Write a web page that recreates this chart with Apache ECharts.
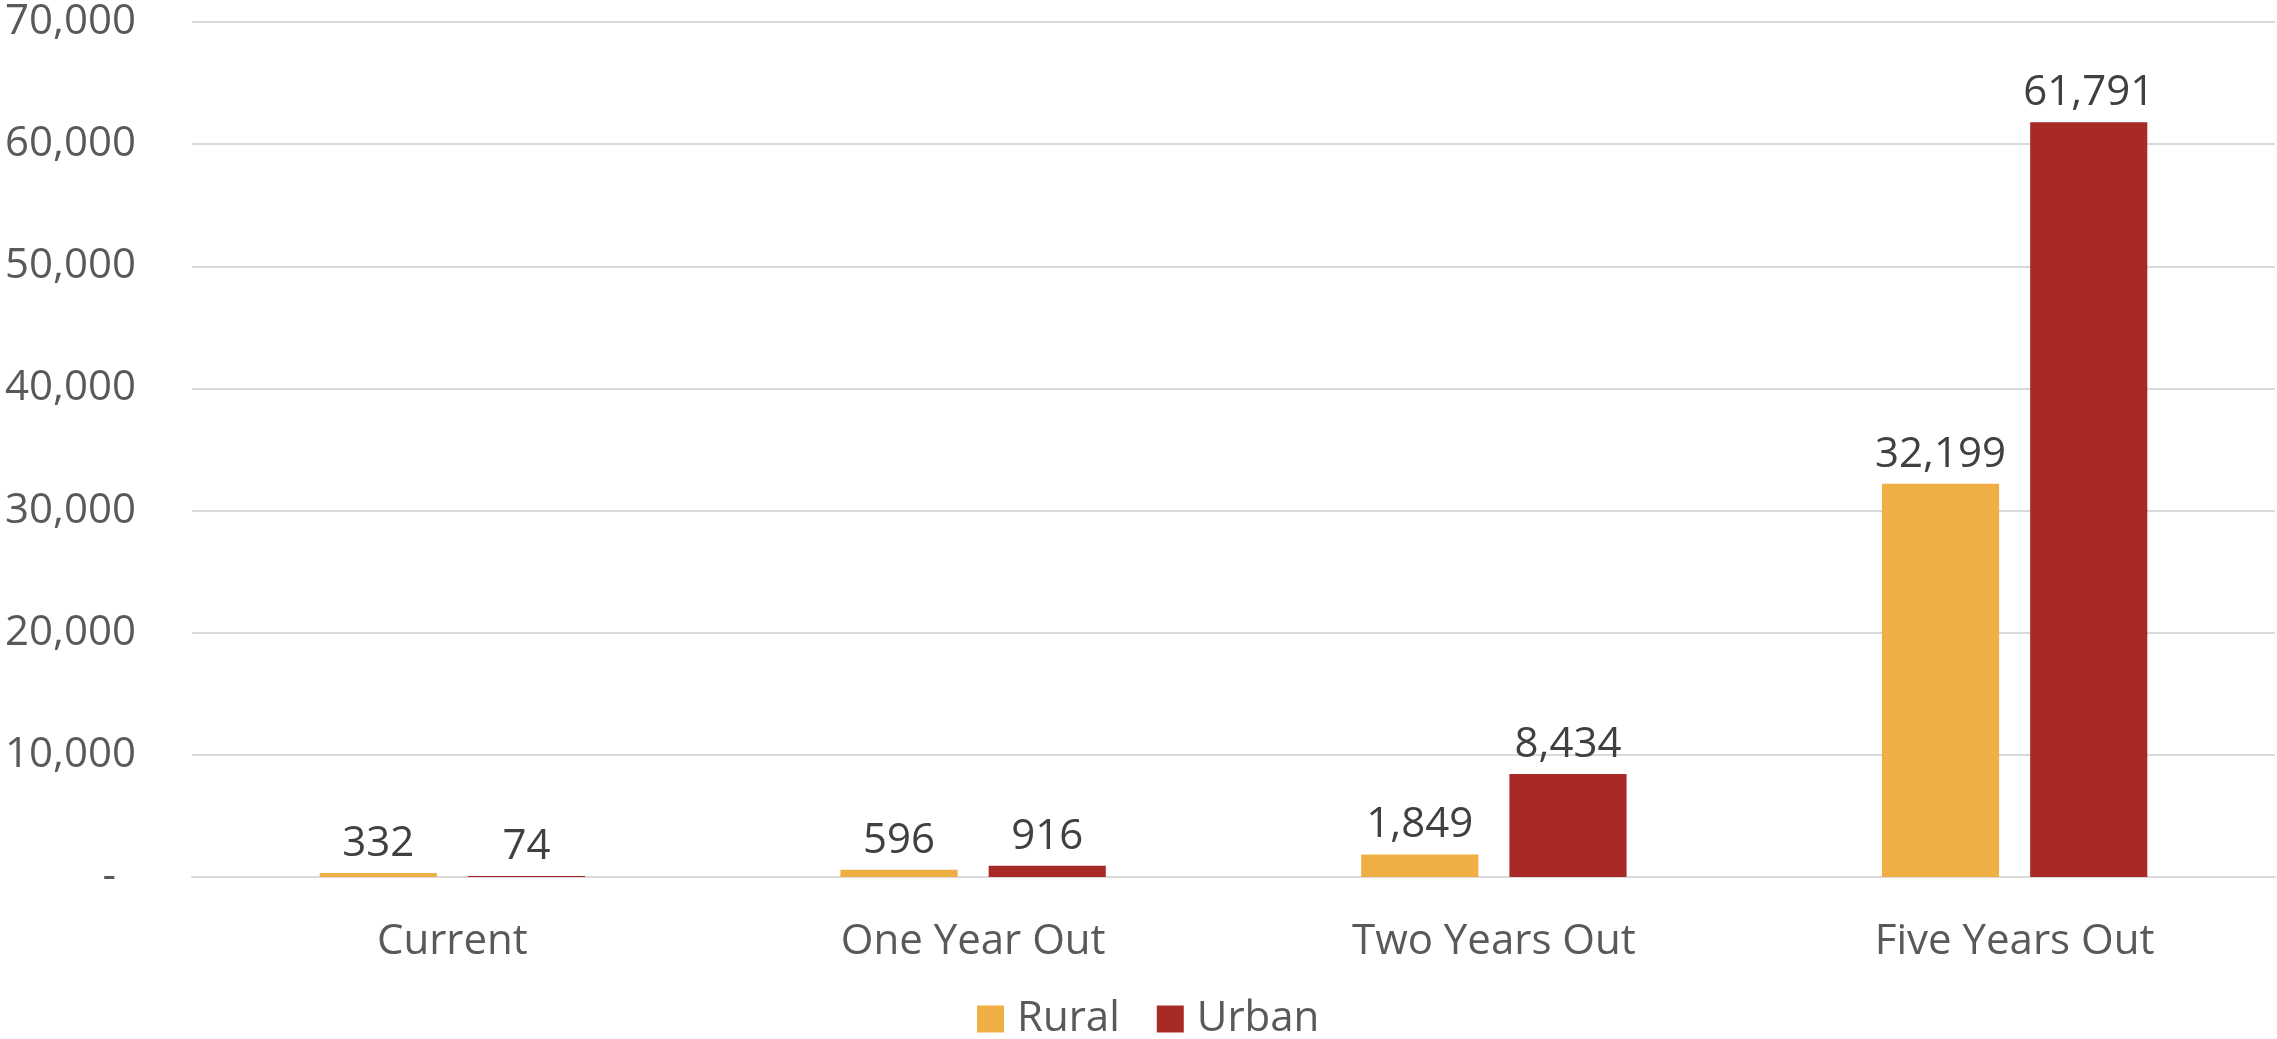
<!DOCTYPE html>
<html>
<head>
<meta charset="utf-8">
<script src="https://cdn.jsdelivr.net/npm/echarts@6/dist/echarts.min.js"></script>
<style>
html,body{margin:0;padding:0;background:#fff;}
#chart{width:2277px;height:1039px;}
</style>
</head>
<body>
<div id="chart"></div>
<script>
const categories = ['Current', 'One Year Out', 'Two Years Out', 'Five Years Out'];
const seriesNames = ['Rural', 'Urban'];
const ruralValues = [332, 596, 1849, 32199];
const urbanValues = [74, 916, 8434, 61791];
const yTicks = [0, 10000, 20000, 30000, 40000, 50000, 60000, 70000];

const FONT = '"Open Sans", "Noto Sans", sans-serif';
const fmt = v => v.toLocaleString('en-US');

const chart = echarts.init(document.getElementById('chart'), null, {renderer: 'canvas'});
chart.setOption({
  backgroundColor: '#ffffff',
  animation: false,
  grid: {left: 192, right: 2, top: 22, bottom: 162, containLabel: false},
  legend: {
    data: seriesNames,
    top: 998,
    left: 977,
    padding: 0,
    itemWidth: 27,
    itemHeight: 27,
    itemGap: 37,
    icon: 'rect',
    textStyle: {fontFamily: FONT, fontSize: 42, color: '#595959', padding: [0, 0, 0, 8]}
  },
  xAxis: {
    type: 'category',
    data: categories,
    axisLine: {show: true, lineStyle: {color: '#D9D9D9', width: 2}},
    axisTick: {show: false},
    axisLabel: {fontFamily: FONT, fontSize: 42, color: '#595959', margin: 44}
  },
  yAxis: {
    type: 'value',
    min: yTicks[0],
    max: yTicks[yTicks.length - 1],
    interval: yTicks[1] - yTicks[0],
    axisLine: {show: false},
    axisTick: {show: false},
    splitLine: {lineStyle: {color: '#D9D9D9', width: 2}},
    axisLabel: {
      fontFamily: FONT, fontSize: 42, color: '#595959', margin: 56,
      formatter: v => v === 0 ? '{d|-}' : fmt(v),
      rich: {d: {fontFamily: FONT, fontSize: 42, color: '#595959', padding: [0, 20, 0, 0]}}
    }
  },
  series: [
    {
      name: seriesNames[0], type: 'bar', data: ruralValues,
      barWidth: '22.5%', barGap: '26.5%',
      itemStyle: {color: '#F0AF45'},
      label: {show: true, position: 'top', distance: 8, fontFamily: FONT, fontSize: 42, color: '#404040', formatter: p => fmt(p.value)}
    },
    {
      name: seriesNames[1], type: 'bar', data: urbanValues,
      barWidth: '22.5%', barGap: '26.5%',
      itemStyle: {color: '#A82A27'},
      label: {show: true, position: 'top', distance: 8, fontFamily: FONT, fontSize: 42, color: '#404040', formatter: p => fmt(p.value)}
    }
  ]
});
</script>
</body>
</html>
